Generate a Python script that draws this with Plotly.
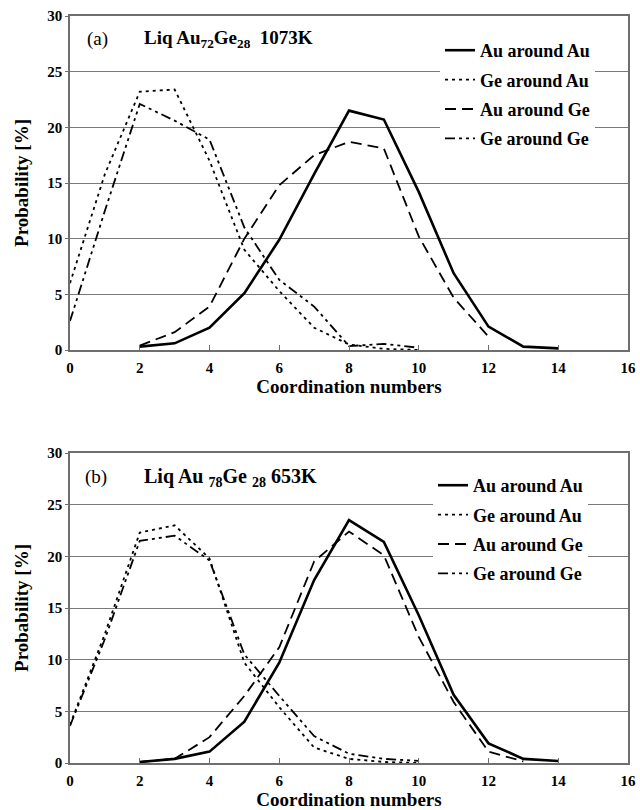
import plotly.graph_objects as go

# ---- data ----
# panel (a): Liq Au72Ge28 1073K
a_au_au_x = [2, 3, 4, 5, 6, 7, 8, 9, 10, 11, 12, 13, 14]
a_au_au_y = [0.3, 0.6, 2.0, 5.1, 9.9, 15.8, 21.5, 20.7, 14.2, 6.9, 2.1, 0.3, 0.15]
a_ge_au_x = [0, 1, 2, 3, 4, 5, 6, 7, 8, 9, 10]
a_ge_au_y = [6.0, 15.8, 23.2, 23.4, 17.0, 9.0, 5.3, 2.0, 0.5, 0.1, 0.0]
a_au_ge_x = [2, 3, 4, 5, 6, 7, 8, 9, 10, 11, 12]
a_au_ge_y = [0.4, 1.6, 3.9, 10.0, 14.8, 17.5, 18.7, 18.1, 10.2, 4.7, 1.2]
a_ge_ge_x = [0, 1, 2, 3, 4, 5, 6, 7, 8, 9, 10]
a_ge_ge_y = [2.6, 12.5, 22.1, 20.6, 18.9, 11.0, 6.3, 3.9, 0.35, 0.55, 0.2]

# panel (b): Liq Au78Ge28 653K
b_au_au_x = [2, 3, 4, 5, 6, 7, 8, 9, 10, 11, 12, 13, 14]
b_au_au_y = [0.1, 0.4, 1.1, 4.0, 9.7, 17.7, 23.5, 21.4, 14.3, 6.6, 1.9, 0.4, 0.2]
b_ge_au_x = [0, 1, 2, 3, 4, 5, 6, 7, 8, 9, 10]
b_ge_au_y = [3.7, 12.5, 22.3, 23.0, 19.8, 9.7, 5.4, 1.5, 0.4, 0.1, 0.0]
b_au_ge_x = [2, 3, 4, 5, 6, 7, 8, 9, 10, 11, 12, 13]
b_au_ge_y = [0.1, 0.4, 2.5, 6.5, 11.2, 19.5, 22.4, 20.1, 12.2, 5.9, 1.1, 0.15]
b_ge_ge_x = [0, 1, 2, 3, 4, 5, 6, 7, 8, 9, 10]
b_ge_ge_y = [3.6, 12.0, 21.5, 22.0, 19.6, 10.5, 6.5, 2.6, 0.9, 0.4, 0.2]

names = ["Au around Au", "Ge around Au", "Au around Ge", "Ge around Ge"]
y_ticks = [0, 5, 10, 15, 20, 25, 30]
x_ticks = [0, 2, 4, 6, 8, 10, 12, 14, 16]

styles = [
    dict(color="black", width=2.6, dash="solid"),
    dict(color="black", width=1.8, dash="3px,4px"),
    dict(color="black", width=1.8, dash="11px,6px"),
    dict(color="black", width=1.8, dash="10px,4px,3px,4px,3px,4px"),
]

FONT = "Liberation Serif, Times New Roman, serif"

# ---- layout geometry (pixels) ----
W, H = 640, 810
ml, mr, mt, mb = 70, 12, 16, 47
ph = H - mt - mb
pw = W - ml - mr


def py(p):
    return (H - mb - p) / ph


def px(p):
    return (p - ml) / pw


fig = go.Figure()

panels = [
    ("a", [(a_au_au_x, a_au_au_y), (a_ge_au_x, a_ge_au_y), (a_au_ge_x, a_au_ge_y), (a_ge_ge_x, a_ge_ge_y)], "x", "y", "legend"),
    ("b", [(b_au_au_x, b_au_au_y), (b_ge_au_x, b_ge_au_y), (b_au_ge_x, b_au_ge_y), (b_ge_ge_x, b_ge_ge_y)], "x2", "y2", "legend2"),
]

for tag, series, xa, ya, lg in panels:
    for i, (xs, ys) in enumerate(series):
        fig.add_trace(go.Scatter(
            x=xs, y=ys, mode="lines", name=names[i], line=styles[i],
            xaxis=xa, yaxis=ya, legend=lg, legendgroup=tag + str(i),
            showlegend=True,
        ))

axis_common = dict(
    showline=True, mirror=True, linecolor="#6e6e6e", linewidth=1.5,
    zeroline=False, automargin=False,
    tickfont=dict(family=FONT, size=15, color="black", weight="bold"),
)

top_dom = [py(350), py(16)]
bot_dom = [py(763), py(453)]

xtitle = dict(text="Coordination numbers", font=dict(family=FONT, size=19, weight="bold"), standoff=5)
ytitle = dict(text="Probability [%]", font=dict(family=FONT, size=19, weight="bold"), standoff=14)

fig.update_layout(
    width=W, height=H,
    margin=dict(l=ml, r=mr, t=mt, b=mb),
    paper_bgcolor="white", plot_bgcolor="white",
    font=dict(family=FONT, color="black"),
    xaxis=dict(domain=[0, 1], range=[0, 16], tickvals=x_ticks, anchor="y",
               ticks="inside", ticklen=5, tickcolor="#6e6e6e", showgrid=False,
               ticklabelstandoff=3, title=xtitle, **axis_common),
    yaxis=dict(domain=top_dom, range=[0, 30], tickvals=y_ticks, anchor="x",
               ticks="outside", ticklen=3, tickcolor="#6e6e6e",
               showgrid=True, gridcolor="#7a7a7a", gridwidth=1.2,
               title=ytitle, **axis_common),
    xaxis2=dict(domain=[0, 1], range=[0, 16], tickvals=x_ticks, anchor="y2",
                ticks="inside", ticklen=5, tickcolor="#6e6e6e", showgrid=False,
                ticklabelstandoff=3, title=xtitle, **axis_common),
    yaxis2=dict(domain=bot_dom, range=[0, 30], tickvals=y_ticks, anchor="x2",
                ticks="outside", ticklen=3, tickcolor="#6e6e6e",
                showgrid=True, gridcolor="#7a7a7a", gridwidth=1.2,
                title=ytitle, **axis_common),
    legend=dict(x=px(440), y=py(32), xanchor="left", yanchor="top",
                bgcolor="white", borderwidth=0, tracegroupgap=3,
                font=dict(family=FONT, size=18, color="black", weight="bold")),
    legend2=dict(x=px(433), y=py(467), xanchor="left", yanchor="top",
                 bgcolor="white", borderwidth=0, tracegroupgap=3,
                 font=dict(family=FONT, size=18, color="black", weight="bold")),
    showlegend=True,
)

ann = [
    dict(text="(a)", x=85, y=39, size=19, weight="normal"),
    dict(text="Liq Au<sub>72</sub>Ge<sub>28</sub>  1073K", x=142, y=39, size=19, weight="bold"),
    dict(text="(b)", x=83, y=477, size=19, weight="normal"),
    dict(text="Liq Au <sub>78</sub>Ge <sub>28</sub> 653K", x=142, y=478, size=20, weight="bold"),
]
for a in ann:
    fig.add_annotation(
        text=a["text"], xref="paper", yref="paper",
        x=px(a["x"]), y=py(a["y"]),
        xanchor="left", yanchor="middle", showarrow=False,
        font=dict(family=FONT, size=a["size"], color="black", weight=a["weight"]),
    )

fig.write_html("out.html")
